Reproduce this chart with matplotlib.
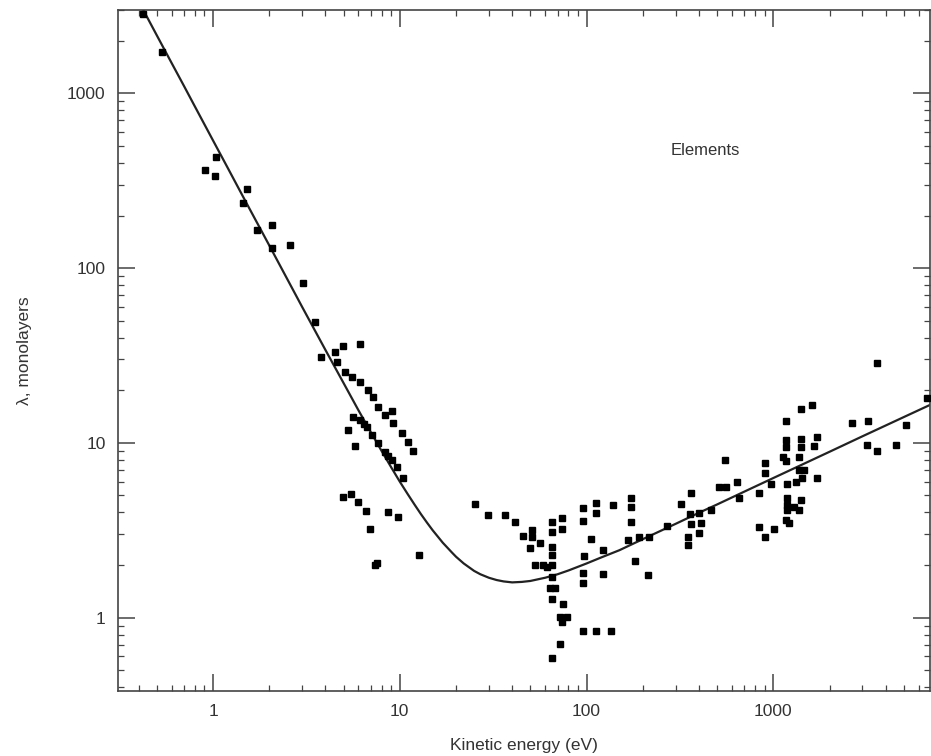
import matplotlib
matplotlib.use("Agg")
import matplotlib.pyplot as plt
from matplotlib.ticker import LogLocator, FuncFormatter, NullFormatter

plt.rcParams['font.family'] = ['Liberation Sans', 'DejaVu Sans']

# Fitted universal curve
curve_E = [0.42, 0.5, 0.6, 0.7, 0.8, 1, 1.2, 1.5, 2, 2.5, 3, 4, 5, 6, 7, 8, 9, 10,
           11, 12, 13, 14, 15, 17, 19, 20, 22, 25, 27, 30, 33, 36, 40, 45, 50, 60,
           70, 80, 100, 120, 150, 200, 250, 300, 400, 500, 700, 1000, 1500, 2000,
           3000, 5000, 7000]
curve_lam = [3050, 2150, 1494, 1100, 841, 538, 374, 239, 135, 86.4, 60, 34, 22, 15.4,
             11.5, 8.97, 7.24, 6.0, 5.11, 4.43, 3.90, 3.49, 3.16, 2.68, 2.36, 2.23,
             2.04, 1.85, 1.77, 1.69, 1.64, 1.61, 1.59, 1.60, 1.62, 1.69, 1.77, 1.86,
             2.04, 2.21, 2.43, 2.81, 3.14, 3.44, 3.98, 4.44, 5.26, 6.29, 7.70, 8.89,
             10.9, 14.05, 16.6]

# Measured data points (elements)
data_E = [0.42, 0.53, 1.04, 0.91, 1.03, 1.52, 1.45, 1.72, 2.07, 2.07, 2.58, 3.03,
          3.5, 4.95, 6.1, 3.8, 4.6, 4.5,
          5.08, 5.54, 6.11, 6.74, 7.17, 7.63, 9.06, 8.31, 9.18, 10.25, 11.0, 11.7,
          5.61, 6.11, 6.4, 6.66, 7.08, 7.63, 8.31, 8.6, 9.06, 9.64, 10.4,
          5.27, 5.75, 4.96, 5.47, 5.96, 6.58, 8.63, 9.75, 6.91, 7.54, 7.4, 12.6,
          25.2, 29.6, 36.4, 41.2, 45.5, 50.8, 50.8, 56.1, 49.6, 52.7, 58.2, 61.1,
          65.0, 65.0, 73.5, 73.5, 65.0, 65.0, 65.0, 65.0, 63.4, 67.4, 65.0, 74.4,
          71.7, 78.2, 73.5, 71.7, 65.0,
          95.2, 95.2, 113, 113, 139, 174, 174, 174, 105, 97.5, 123, 95.2, 95.2, 123,
          181, 212, 95.2, 112, 136, 192, 215, 166,
          322, 364, 356, 402, 364, 412, 351, 351, 402, 271, 466, 514, 561, 554, 642,
          658, 841, 906, 906, 975, 841, 1012, 906, 1130, 1174, 1377, 1174, 1174,
          1174, 1412, 1412, 1412, 1617, 1718, 1656, 1465, 1377, 1429, 1718, 1188,
          1327, 1188, 1412, 1188, 1295, 1188, 1377, 1174, 1218,
          2645, 3221, 3184, 3597, 4548, 5140, 3597, 6660]
data_lam = [2850, 1720, 430, 365, 335, 283, 235, 165, 176, 130, 135, 82,
            49, 36, 37, 31, 29, 33,
            25.5, 23.8, 22.3, 20.1, 18.3, 16.1, 15.2, 14.5, 13.0, 11.4, 10.1, 9.0,
            14.1, 13.5, 12.9, 12.3, 11.1, 10.0, 8.9, 8.4, 8.0, 7.3, 6.3,
            11.9, 9.6, 4.91, 5.11, 4.6, 4.09, 4.03, 3.78, 3.22, 2.06, 2.0, 2.29,
            4.48, 3.88, 3.88, 3.54, 2.94, 3.18, 2.90, 2.68, 2.51, 2.01, 2.01, 1.96,
            3.54, 3.10, 3.73, 3.22, 2.55, 2.29, 2.01, 1.71, 1.48, 1.48, 1.28, 1.20,
            1.01, 1.01, 0.94, 0.71, 0.59,
            4.25, 3.58, 4.54, 3.98, 4.42, 4.85, 4.31, 3.54, 2.83, 2.26, 2.45, 1.81, 1.58, 1.78,
            2.12, 1.76, 0.84, 0.84, 0.84, 2.90, 2.90, 2.79,
            4.48, 5.18, 3.93, 3.98, 3.44, 3.49, 2.90, 2.61, 3.06, 3.36, 4.14, 5.6, 5.6, 8.0, 5.98,
            4.85, 5.18, 7.69, 6.74, 5.83, 3.31, 3.22, 2.90, 8.32, 7.89, 8.32, 13.4, 10.4,
            9.49, 10.5, 9.49, 15.6, 16.5, 10.8, 9.6, 7.01, 7.01, 6.31, 6.31, 5.83,
            5.98, 4.85, 4.72, 4.42, 4.31, 4.14, 4.14, 3.63, 3.49,
            13.0, 13.4, 9.74, 9.0, 9.74, 12.7, 28.6, 18.1]

x_ticks = [1, 10, 100, 1000]
y_ticks = [1, 10, 100, 1000]
x_label = "Kinetic energy (eV)"
y_label = "λ, monolayers"
annotation = "Elements"

fig = plt.figure(figsize=(9.31, 7.56), dpi=100)
ax = fig.add_axes([118/931, 1-691/756, (930-118)/931, (691-10)/756])

ax.plot(curve_E, curve_lam, color='#222222', lw=1.6, zorder=2,
        solid_joinstyle='round')
ax.plot(data_E, data_lam, linestyle='none', marker='s', ms=3.8,
        color='black', mec='black', zorder=3)

ax.set_xscale('log')
ax.set_yscale('log')
ax.set_xlim(0.31, 6900)
ax.set_ylim(0.38, 3000)

fmt = FuncFormatter(lambda v, p: '%g' % v)
ax.set_xticks(x_ticks)
ax.set_yticks(y_ticks)
ax.xaxis.set_major_formatter(fmt)
ax.yaxis.set_major_formatter(fmt)
ax.xaxis.set_minor_locator(LogLocator(base=10, subs=range(2, 10), numticks=20))
ax.yaxis.set_minor_locator(LogLocator(base=10, subs=range(2, 10), numticks=20))
ax.xaxis.set_minor_formatter(NullFormatter())
ax.yaxis.set_minor_formatter(NullFormatter())

ax.tick_params(which='both', direction='in', top=True, right=True,
               colors='#444444', labelcolor='#333333')
ax.tick_params(which='major', length=12, width=1.1, labelsize=12.5, pad=9)
ax.tick_params(which='minor', length=4.5, width=0.9)
for s in ax.spines.values():
    s.set_linewidth(1.2)
    s.set_color('#444444')

ax.set_xlabel(x_label, fontsize=12.5, color='#333333', labelpad=14)
ax.set_ylabel(y_label, fontsize=12.5, color='#333333', labelpad=25)
ax.text(0.723, 0.794, annotation, transform=ax.transAxes, fontsize=12,
        color='#333333', ha='center', va='center')

fig.savefig('out.png', dpi=100)
